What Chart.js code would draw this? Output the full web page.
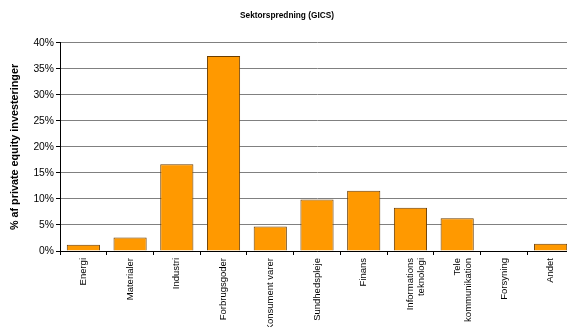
<!DOCTYPE html>
<html lang="da">
<head>
  <meta charset="UTF-8">
  <title>Sektorspredning (GICS)</title>
  <script src="https://cdn.jsdelivr.net/npm/chart.js"></script>
  <style>
    html, body { margin: 0; padding: 0; background: #fff; overflow: hidden; }
    #wrap { width: 575px; height: 327px; }
  </style>
</head>
<body>
  <div id="wrap"><canvas id="sektorChart"></canvas></div>
  <script>
    // Data
    const sektorer = ['Energi', 'Materialer', 'Industri', 'Forbrugsgoder', 'Konsument varer',
      'Sundhedspleje', 'Finans', ['Informations', 'teknologi'], ['Tele', 'kommunikation'],
      'Forsyning', 'Andet'];
    const andele = [1.2, 2.6, 16.7, 37.5, 4.7, 9.9, 11.6, 8.3, 6.3, 0, 1.4];
    const yTicks = [0, 5, 10, 15, 20, 25, 30, 35, 40];

    const font = 'Liberation Sans, Arial, sans-serif';

    new Chart(document.getElementById('sektorChart'), {
      type: 'bar',
      data: {
        labels: sektorer,
        datasets: [{
          data: andele,
          backgroundColor: '#ff9900',
          borderColor: '#6b3d00',
          borderWidth: 1,
          barPercentage: 0.71,
          categoryPercentage: 1
        }]
      },
      options: {
        responsive: true,
        maintainAspectRatio: false,
        animation: false,
        layout: { padding: { left: 0, right: 1, top: 0, bottom: 0 } },
        plugins: {
          legend: { display: false },
          tooltip: { enabled: false },
          title: {
            display: true,
            text: 'Sektorspredning (GICS)',
            color: '#000',
            font: { family: font, size: 8.3, weight: 'bold' },
            padding: { top: 11, bottom: 22 }
          }
        },
        scales: {
          x: {
            afterFit: s => { s.height = 76; },
            border: { color: '#000', width: 1 },
            grid: { offset: true, drawOnChartArea: false, drawTicks: true, tickLength: 4, color: '#000' },
            ticks: {
              minRotation: 90, maxRotation: 90, autoSkip: false,
              color: '#000', font: { family: font, size: 9.5 }, padding: 3
            }
          },
          y: {
            min: 0, max: 40,
            afterFit: s => { s.width = 60; },
            afterBuildTicks: s => { s.ticks = yTicks.map(v => ({ value: v })); },
            border: { color: '#000', width: 1 },
            grid: { color: '#808080', tickLength: 4, tickColor: '#000' },
            ticks: {
              color: '#000', font: { family: font, size: 10.3 }, padding: 2,
              callback: v => v + '%'
            },
            title: {
              display: true,
              text: '% af private equity investeringer',
              color: '#000',
              font: { family: font, size: 10.8, weight: 'bold' },
              padding: { top: 9, bottom: 4 }
            }
          }
        }
      }
    });
  </script>
</body>
</html>
